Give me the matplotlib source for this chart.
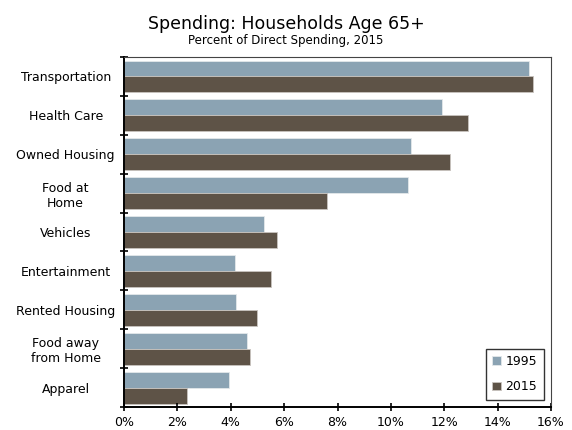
import matplotlib.pyplot as plt
import numpy as np

categories = ["Transportation", "Health Care", "Owned Housing", "Food at\nHome",
              "Vehicles", "Entertainment", "Rented Housing", "Food away\nfrom Home",
              "Apparel"]
share_1995 = [15.16, 11.90, 10.77, 10.64, 5.23, 4.17, 4.19, 4.60, 3.93]
share_2015 = [15.33, 12.88, 12.21, 7.60, 5.74, 5.52, 4.97, 4.72, 2.37]
xticks = [0, 2, 4, 6, 8, 10, 12, 14, 16]

plt.rcParams["font.family"] = ["DejaVu Sans"]

fig = plt.figure(figsize=(5.72, 4.3), dpi=100)
ax = fig.add_axes([124 / 572, 1 - 407 / 430, (551 - 124) / 572, (407 - 57) / 430])

y = np.arange(len(categories))
h = 0.41
ax.barh(y - h / 2, share_1995, height=h, color="#8BA3B3", edgecolor="#e4e8ea",
        linewidth=0.6, label="1995")
ax.barh(y + h / 2, share_2015, height=h, color="#5E5347", edgecolor="#c9c4bf",
        linewidth=0.6, label="2015")

ax.set_xlim(0, 16)
ax.set_ylim(len(categories) - 0.5, -0.5)
ax.set_xticks(xticks)
ax.set_xticklabels([f"{t}%" for t in xticks], fontsize=9)
ax.set_yticks(y)
ax.set_yticklabels(categories, fontsize=9, ha="center")
ax.tick_params(axis="y", length=0, pad=42)
ax.set_yticks(np.arange(len(categories) + 1) - 0.5, minor=True)
ax.tick_params(axis="y", which="minor", length=6, direction="inout", width=1.2)
ax.tick_params(axis="x", length=6, direction="inout", width=1.2)

for side in ["top", "right"]:
    ax.spines[side].set_linewidth(0.8)
    ax.spines[side].set_color("#444444")
for side in ["left", "bottom"]:
    ax.spines[side].set_linewidth(1.4)

leg = ax.legend(loc="lower right", fontsize=9, frameon=True, fancybox=False,
                handlelength=0.7, handleheight=0.7, handletextpad=0.4,
                borderpad=0.5, labelspacing=1.0, borderaxespad=0.6)
leg.get_frame().set_edgecolor("black")
leg.get_frame().set_linewidth(1.0)

fig.text(0.5, 0.932, "Spending: Households Age 65+", ha="center", fontsize=12.5)
fig.text(0.5, 0.898, "Percent of Direct Spending, 2015", ha="center", fontsize=8.5)

fig.savefig("out.png", dpi=100)
